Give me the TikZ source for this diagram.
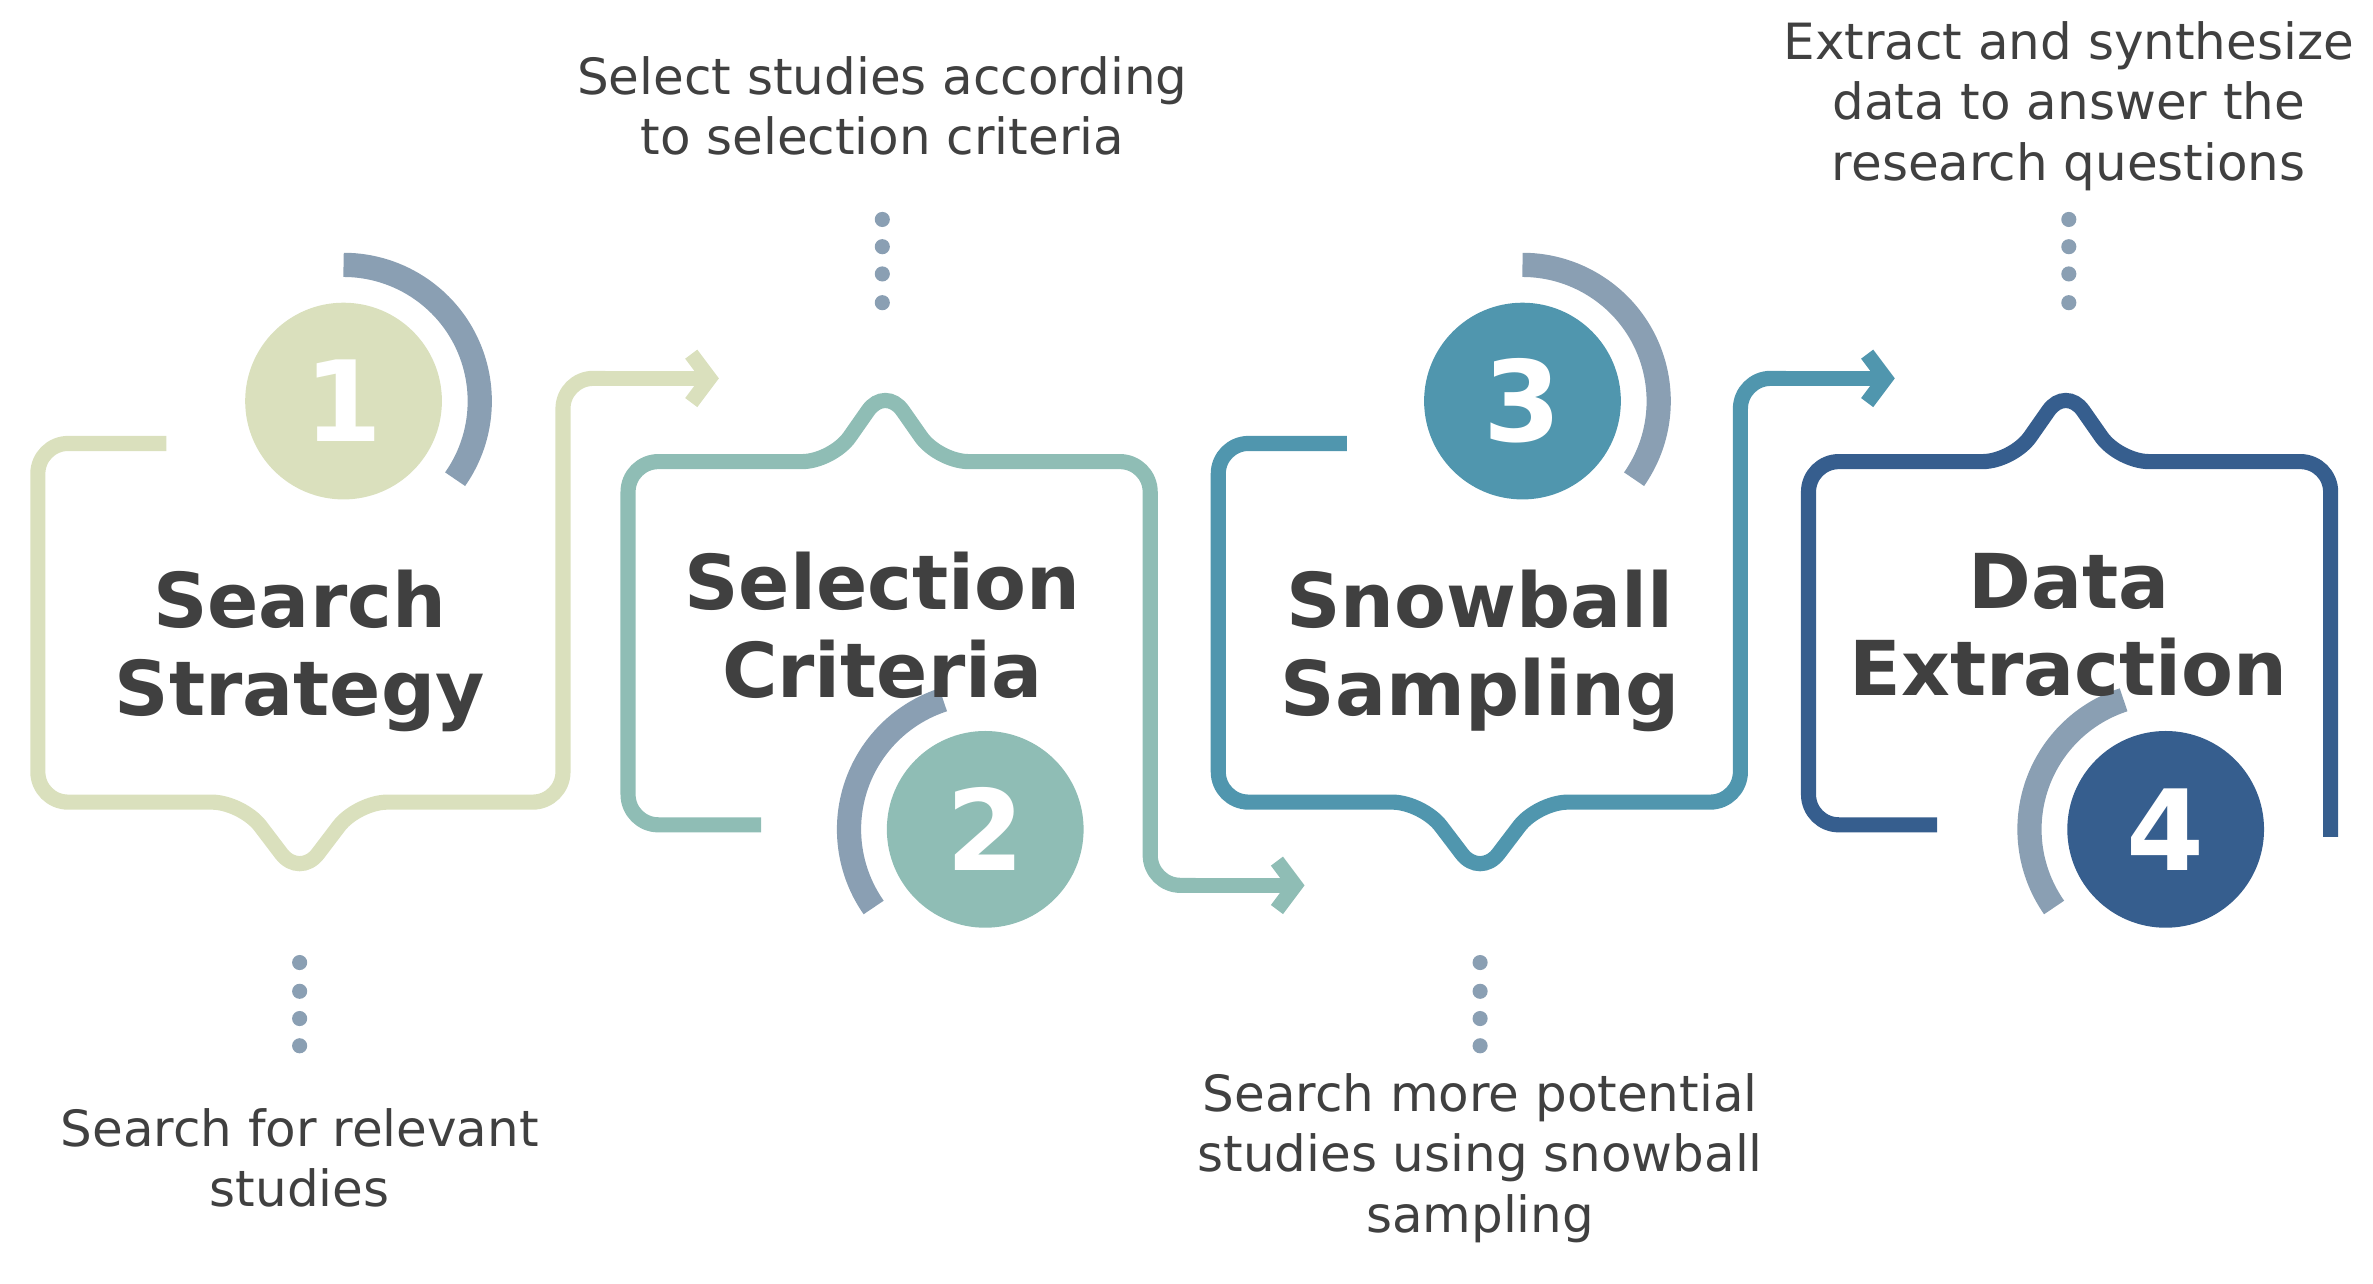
\documentclass[tikz,border=0pt]{standalone}
\usepackage{fontspec}
\setmainfont{DejaVu Sans}
\usetikzlibrary{arrows.meta,positioning}
\definecolor{cone}{HTML}{DAE0BD}
\definecolor{ctwo}{HTML}{8FBDB5}
\definecolor{cthree}{HTML}{5096AE}
\definecolor{cfour}{HTML}{365E8E}
\definecolor{carc}{HTML}{8A9FB3}
\definecolor{ctext}{HTML}{404040}
\tikzset{
  frame/.style={line width=5pt, rounded corners=10pt},
  chev/.style={-{Straight Barb[length=6pt,width=16pt,line width=5pt]}},
  title/.style={font=\fontsize{25}{29}\selectfont\bfseries, text=ctext, align=center},
  desc/.style={font=\fontsize{16.5}{20}\selectfont, text=ctext, align=center},
  num/.style={circle, minimum size=65pt, inner sep=0pt, text=white, font=\fontsize{37}{37}\selectfont\bfseries},
  ring/.style={line width=8pt, draw=carc},
  dot/.style={circle, fill=carc, minimum size=5pt, inner sep=0pt}
}
\begin{document}
\begin{tikzpicture}[x=0.5pt,y=-0.5pt]
    \useasboundingbox (0,0) rectangle (1568,848);
    % Frames
    \draw [frame, draw=cone] (110,293) -- (25,293) -- (25,530) -- (160,530) -- (198,580) -- (236,530) -- (372,530) -- (372,250) -- (400,250);
    \draw [frame, draw=ctwo] (503,545) -- (415,545) -- (415,305) -- (550,305) -- (585,255) -- (620,305) -- (760,305) -- (760,585) -- (790,585);
    \draw [frame, draw=cthree] (890,293) -- (805,293) -- (805,530) -- (940,530) -- (978,580) -- (1016,530) -- (1150,530) -- (1150,250) -- (1180,250);
    \draw [frame, draw=cfour] (1280,545) -- (1195,545) -- (1195,305) -- (1330,305) -- (1365,255) -- (1400,305) -- (1540,305) -- (1540,553);
    % Arrow heads
    \coordinate (a1s) at (398,250); \coordinate (a1e) at (475,250);
    \coordinate (a2s) at (788,585); \coordinate (a2e) at (862,585);
    \coordinate (a3s) at (1178,250); \coordinate (a3e) at (1252,250);
    \draw [line width=5pt, draw=cone, chev] (a1s) -- (a1e);
    \draw [line width=5pt, draw=ctwo, chev] (a2s) -- (a2e);
    \draw [line width=5pt, draw=cthree, chev] (a3s) -- (a3e);
    % Numbered circles
    \node [num, fill=cone] (n1) at (227,265) {1};
    \node [num, fill=ctwo] (n2) at (651,548) {2};
    \node [num, fill=cthree] (n3) at (1006,265) {3};
    \node [num, fill=cfour] (n4) at (1431,548) {4};
    \draw [ring] (n1.center) ++(35:90) arc[start angle=35, end angle=-90, radius=90];
    \draw [ring] (n2.center) ++(145:90) arc[start angle=145, end angle=252, radius=90];
    \draw [ring] (n3.center) ++(35:90) arc[start angle=35, end angle=-90, radius=90];
    \draw [ring] (n4.center) ++(145:90) arc[start angle=145, end angle=252, radius=90];
    % Titles
    \node [title] (t1) at (198,430) {Search\\Strategy};
    \node [title] (t2) at (583,413) {Selection\\Criteria};
    \node [title] (t3) at (978,430) {Snowball\\Sampling};
    \node [title] (t4) at (1367,413) {Data\\Extraction};
    % Dots
    \foreach \y in {636,655,673,691} {
      \node [dot] at (198,\y) {};
      \node [dot] at (978,\y) {};
    }
    \foreach \y in {145,163,181,200} {
      \node [dot] at (583,\y) {};
      \node [dot] at (1367,\y) {};
    }
    % Descriptions
    \node [desc] (d1) at (198,765) {Search for relevant\\studies};
    \node [desc] (d2) at (583,70) {Select studies according\\to selection criteria};
    \node [desc] (d3) at (978,765) {Search more potential\\studies using snowball\\sampling};
    \node [desc] (d4) at (1367,70) {Extract and synthesize\\data to answer the\\research questions};
\end{tikzpicture}
\end{document}
